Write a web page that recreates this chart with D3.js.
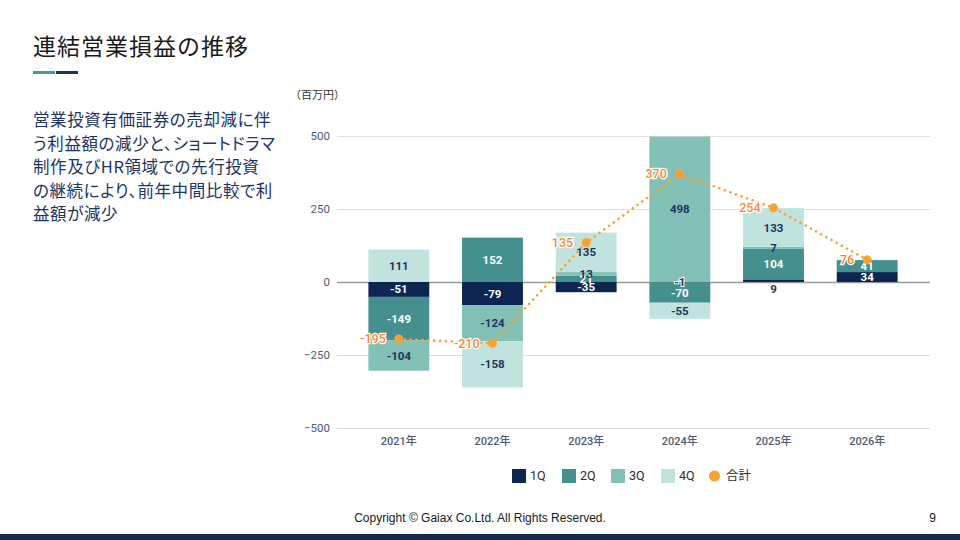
<!DOCTYPE html>
<html>
<head>
<meta charset="utf-8">
<script src="https://cdn.jsdelivr.net/npm/d3@7"></script>
<style>
  body { margin: 0; background: #fff; }
  svg { display: block; font-family: Roboto, "Noto Sans CJK JP", sans-serif; }
</style>
</head>
<body>
<svg id="chart" width="960" height="540"></svg>
<script>
var years = ["2021年", "2022年", "2023年", "2024年", "2025年", "2026年"];
var quarters = ["1Q", "2Q", "3Q", "4Q"];
var q1 = [-51, -79, -35, -1, 9, 34];
var q2 = [-149, 152, 21, -70, 104, 41];
var q3 = [-104, -124, 13, 498, 7, null];
var q4 = [111, -158, 135, -55, 133, null];
var totals = [-195, -210, 135, 370, 254, 76];
var yTicks = [-500, -250, 0, 250, 500];
var noteLines = [
    "営業投資有価証券の売却減に伴",
    "う利益額の減少と、ショートドラマ",
    "制作及びHR領域での先行投資",
    "の継続により、前年中間比較で利",
    "益額が減少"
];

var colours = { "1Q": "#0c2651", "2Q": "#458f8f", "3Q": "#83c1b6", "4Q": "#c1e3de" };
var labelColours = { "1Q": "#ffffff", "2Q": "#ffffff", "3Q": "#1c3461", "4Q": "#1c3461" };
var orange = "#f9a232";

var svg = d3.select("#chart");

// title block
svg.append("text")
    .attr("x", 33).attr("y", 55)
    .attr("font-size", 23).attr("letter-spacing", 1)
    .attr("fill", "#1a1a1a")
    .attr("font-family", "'Noto Sans CJK JP', sans-serif")
    .text("連結営業損益の推移");
svg.append("rect").attr("x", 33).attr("y", 71).attr("width", 22).attr("height", 3).attr("fill", "#4b9893");
svg.append("rect").attr("x", 56).attr("y", 71).attr("width", 22).attr("height", 3).attr("fill", "#1b3461");

svg.append("g").selectAll("text")
    .data(noteLines)
  .enter()
    .append("text")
    .attr("x", 33)
    .attr("y", function(d, i) { return 126 + i * 23.5; })
    .attr("font-size", 16.5).attr("letter-spacing", 0.6)
    .attr("font-family", "'Noto Sans CJK JP', sans-serif")
    .style("font-feature-settings", "'palt'")
    .attr("fill", "#1c3461")
    .text(function(d) { return d; });

// chart
var x = d3.scaleBand().domain(years).range([352, 914]).paddingInner(0.35).paddingOuter(0.175);
var y = d3.scaleLinear().domain([-500, 500]).range([428, 136]);

svg.append("text")
    .attr("x", 290).attr("y", 99)
    .attr("font-size", 11).attr("fill", "#333")
    .attr("font-family", "'Noto Sans CJK JP', sans-serif")
    .text("（百万円）");

var yAxis = svg.append("g")
    .attr("transform", "translate(337,0)")
    .call(d3.axisLeft(y).tickValues(yTicks).tickSize(-593).tickPadding(7));
yAxis.select(".domain").remove();
yAxis.selectAll(".tick line")
    .attr("stroke", function(d) { return d === 0 ? "#9a9a9a" : "#dedede"; })
    .attr("stroke-width", function(d) { return d === 0 ? 1.6 : 1; });
yAxis.selectAll(".tick text")
    .attr("font-size", 11.5).attr("fill", "#4f5b70")
    .attr("font-family", "Roboto, sans-serif");

var xAxis = svg.append("g")
    .attr("transform", "translate(0,428)")
    .call(d3.axisBottom(x).tickSize(0).tickPadding(9));
xAxis.select(".domain").remove();
xAxis.selectAll(".tick text")
    .attr("font-size", 11).attr("fill", "#4f5b70").attr("font-weight", 500)
    .attr("font-family", "Roboto, 'Noto Sans CJK JP', sans-serif");

var rows = years.map(function(yr, i) {
    return { year: yr, "1Q": q1[i], "2Q": q2[i], "3Q": q3[i] || 0, "4Q": q4[i] || 0,
             raw: { "1Q": q1[i], "2Q": q2[i], "3Q": q3[i], "4Q": q4[i] } };
});

var stack = d3.stack().keys(quarters).offset(d3.stackOffsetDiverging);
var series = stack(rows);

var layers = svg.append("g").selectAll(".layer")
    .data(series)
  .enter()
    .append("g")
    .attr("class", "layer")
    .attr("fill", function(d) { return colours[d.key]; });

layers.selectAll("rect")
    .data(function(d) { return d.filter(function(p) { return p.data.raw[d.key] !== null; }); })
  .enter()
    .append("rect")
    .attr("x", function(d) { return x(d.data.year); })
    .attr("width", x.bandwidth())
    .attr("y", function(d) { return y(Math.max(d[0], d[1])); })
    .attr("height", function(d) { return Math.abs(y(d[0]) - y(d[1])); });

// segment value labels
var isHairline = function(d) { return Math.abs(y(d[0]) - y(d[1])) < 4; };

series.forEach(function(s) {
    svg.append("g").selectAll("text")
        .data(s.filter(function(p) { return p.data.raw[s.key] !== null; }))
      .enter()
        .append("text")
        .attr("x", function(d) { return x(d.data.year) + x.bandwidth() / 2; })
        .attr("y", function(d) {
            // a thin positive 1Q segment gets its label just under the base
            if (s.key === "1Q" && isHairline(d) && d.data.raw[s.key] > 0) return y(0) + 7;
            return (y(d[0]) + y(d[1])) / 2;
        })
        .attr("dy", "0.35em")
        .attr("text-anchor", "middle")
        .attr("font-size", 11.5).attr("font-weight", 700)
        .attr("fill", function(d) {
            return isHairline(d) ? "#1c3461" : labelColours[s.key];
        })
        .attr("stroke", function(d) {
            return isHairline(d) && s.key === "1Q" && d.data.raw[s.key] < 0 ? "#fff" : "none";
        })
        .attr("stroke-width", 2)
        .attr("paint-order", "stroke")
        .text(function(d) { return d.data.raw[s.key]; });
});

// totals line
var cx = function(d, i) { return x(years[i]) + x.bandwidth() / 2; };
var line = d3.line().x(cx).y(function(d) { return y(d); });

svg.append("path")
    .datum(totals)
    .attr("d", line)
    .attr("fill", "none")
    .attr("stroke", orange)
    .attr("stroke-width", 2.6)
    .attr("stroke-linecap", "round")
    .attr("stroke-dasharray", "0.1 5.8");

svg.append("g").selectAll("circle")
    .data(totals)
  .enter()
    .append("circle")
    .attr("cx", cx)
    .attr("cy", function(d) { return y(d); })
    .attr("r", 4.5)
    .attr("fill", orange);

svg.append("g").selectAll("text")
    .data(totals)
  .enter()
    .append("text")
    .attr("x", function(d, i) { return cx(d, i) - 13; })
    .attr("y", function(d) { return y(d); })
    .attr("dy", "0.35em")
    .attr("text-anchor", "end")
    .attr("font-size", 12.5).attr("font-weight", 500)
    .attr("fill", "#f28a3c")
    .attr("stroke", "#fff").attr("stroke-width", 2.5)
    .attr("paint-order", "stroke")
    .text(function(d) { return d; });

// legend
var legendItems = quarters.concat(["合計"]);
var legendX = [512, 562, 611, 661, 709];
var legend = svg.append("g").selectAll("g")
    .data(legendItems)
  .enter()
    .append("g")
    .attr("transform", function(d, i) { return "translate(" + legendX[i] + ",469)"; });
legend.each(function(d) {
    var g = d3.select(this);
    if (d === "合計") {
        g.append("circle").attr("cx", 5.5).attr("cy", 7).attr("r", 5.5).attr("fill", orange);
    } else {
        g.append("rect").attr("width", 14).attr("height", 14).attr("fill", colours[d]);
    }
    g.append("text")
        .attr("x", d === "合計" ? 17 : 18).attr("y", 7).attr("dy", "0.35em")
        .attr("font-size", 12.5).attr("fill", "#2b2b2b")
        .attr("font-family", "Roboto, 'Noto Sans CJK JP', sans-serif")
        .text(d);
});

// footer
svg.append("text")
    .attr("x", 480).attr("y", 522)
    .attr("text-anchor", "middle")
    .attr("font-size", 12).attr("fill", "#1a1a1a")
    .attr("font-family", "'Liberation Sans', Arial, sans-serif")
    .text("Copyright © Gaiax Co.Ltd. All Rights Reserved.");
svg.append("text")
    .attr("x", 936).attr("y", 522)
    .attr("text-anchor", "end")
    .attr("font-size", 12).attr("fill", "#1a1a1a")
    .attr("font-family", "'Liberation Sans', Arial, sans-serif")
    .text("9");
svg.append("rect").attr("x", 0).attr("y", 534).attr("width", 960).attr("height", 6).attr("fill", "#142a50");
</script>
</body>
</html>
